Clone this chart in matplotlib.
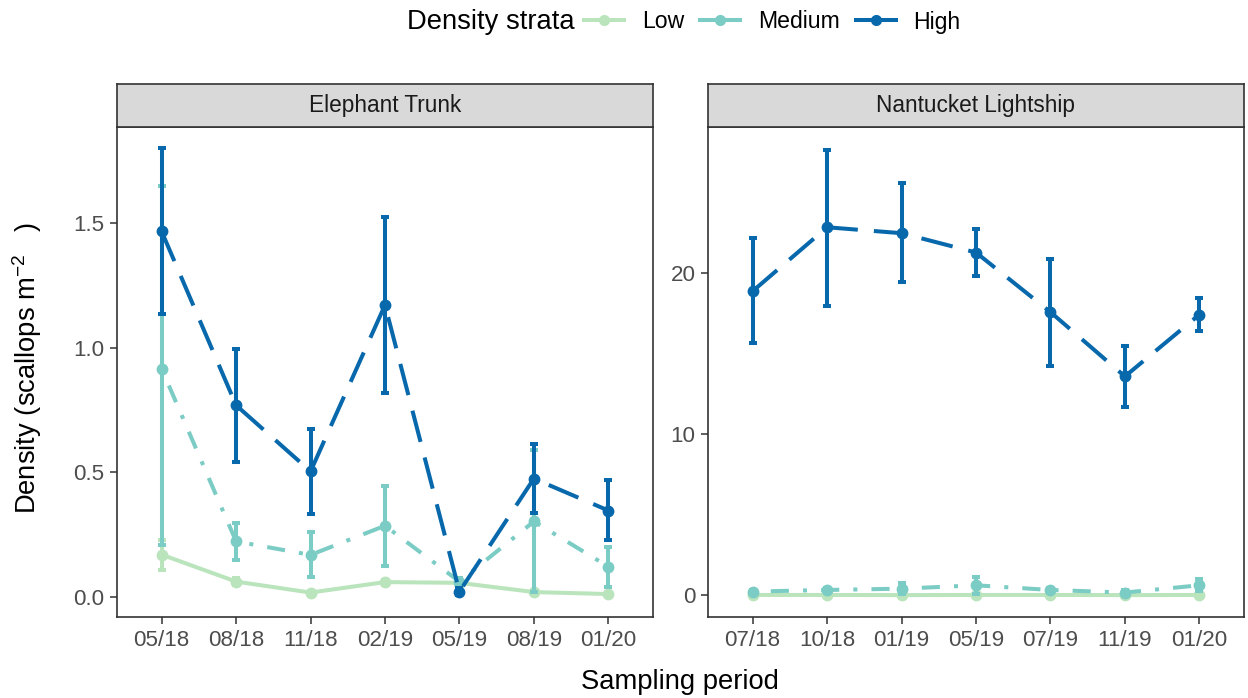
import matplotlib
matplotlib.use("Agg")
import matplotlib.pyplot as plt
from matplotlib.lines import Line2D

plt.rcParams['font.family'] = ['Liberation Sans', 'DejaVu Sans']
plt.rcParams['mathtext.fontset'] = 'custom'
plt.rcParams['mathtext.rm'] = 'Liberation Sans'
plt.rcParams['mathtext.it'] = 'Liberation Sans:italic'

# data
et_periods = ['05/18', '08/18', '11/18', '02/19', '05/19', '08/19', '01/20']
nl_periods = ['07/18', '10/18', '01/19', '05/19', '07/19', '11/19', '01/20']

et_low = [0.17, 0.062, 0.018, 0.06, 0.057, 0.02, 0.012]
et_low_lo = [0.11, 0.05, 0.012, 0.052, 0.05, 0.015, 0.008]
et_low_hi = [0.23, 0.075, 0.024, 0.068, 0.064, 0.025, 0.016]

et_med = [0.915, 0.223, 0.169, 0.286, 0.062, 0.303, 0.122]
et_med_lo = [0.21, 0.149, 0.082, 0.125, 0.042, 0.02, 0.04]
et_med_hi = [1.65, 0.296, 0.259, 0.444, 0.075, 0.59, 0.20]

et_high = [1.466, 0.769, 0.504, 1.171, 0.022, 0.475, 0.347]
et_high_lo = [1.135, 0.54, 0.334, 0.82, 0.008, 0.337, 0.227]
et_high_hi = [1.80, 0.994, 0.675, 1.524, 0.035, 0.612, 0.471]

nl_low = [0.02, 0.02, 0.01, 0.02, 0.02, 0.01, 0.02]
nl_low_lo = [0.0, 0.0, 0.0, 0.0, 0.0, 0.0, 0.0]
nl_low_hi = [0.05, 0.05, 0.03, 0.05, 0.05, 0.03, 0.05]

nl_med = [0.23, 0.33, 0.41, 0.62, 0.33, 0.17, 0.62]
nl_med_lo = [0.1, 0.2, 0.1, 0.05, 0.2, 0.05, 0.25]
nl_med_hi = [0.35, 0.45, 0.74, 1.16, 0.48, 0.3, 1.03]

nl_high = [18.9, 22.87, 22.5, 21.3, 17.6, 13.6, 17.44]
nl_high_lo = [15.65, 18.0, 19.46, 19.83, 14.26, 11.72, 16.4]
nl_high_hi = [22.2, 27.7, 25.6, 22.77, 20.9, 15.5, 18.5]

strata = ['Low', 'Medium', 'High']
colors = {'Low': '#bae4bc', 'Medium': '#7bccc4', 'High': '#0868ac'}
dashes = {'Low': None, 'Medium': (1, 3.5, 4.5, 3.5), 'High': (8, 4)}

W, H = 1248, 698
fig = plt.figure(figsize=(W / 100, H / 100), dpi=100)

def px(x0, y0, x1, y1):
    return [x0 / W, 1 - y1 / H, (x1 - x0) / W, (y1 - y0) / H]

LW = 2.9
tick_col = '#4d4d4d'
frame_col = '#333333'

def panel(rect, strip_rect, title, periods, series, ylim, yticks, yticklabels):
    ax = fig.add_axes(rect)
    x = list(range(len(periods)))
    for i, (name, (y, lo, hi)) in enumerate(zip(strata, series)):
        err = [[v - l for v, l in zip(y, lo)], [h - v for v, h in zip(y, hi)]]
        eb = ax.errorbar(x, y, yerr=err, color=colors[name], lw=LW, marker='o',
                         ms=7.5, capsize=3, capthick=LW, elinewidth=LW,
                         zorder=3 + i)
        if dashes[name] is not None:
            eb[0].set_dashes(dashes[name])
    ax.set_xlim(-0.6, 6.6)
    ax.set_ylim(*ylim)
    ax.set_xticks(x)
    ax.set_xticklabels(periods)
    ax.set_yticks(yticks)
    ax.set_yticklabels(yticklabels)
    ax.tick_params(colors=frame_col, labelcolor=tick_col, labelsize=16.1,
                   length=5, width=1.1, pad=4)
    for s in ax.spines.values():
        s.set_color(frame_col)
        s.set_linewidth(1.2)

    sax = fig.add_axes(strip_rect)
    sax.set_facecolor('#d9d9d9')
    sax.set_xticks([])
    sax.set_yticks([])
    for s in sax.spines.values():
        s.set_color(frame_col)
        s.set_linewidth(1.2)
    sax.text(0.5, 0.5, title, ha='center', va='center', fontsize=16.3,
             color='#1a1a1a', transform=sax.transAxes)
    return ax

ax1 = panel(px(117, 127, 653, 617), px(117, 84, 653, 127), 'Elephant Trunk',
            et_periods,
            [(et_low, et_low_lo, et_low_hi), (et_med, et_med_lo, et_med_hi),
             (et_high, et_high_lo, et_high_hi)],
            (-0.08, 1.885), [0, 0.5, 1.0, 1.5], ['0.0', '0.5', '1.0', '1.5'])
ax2 = panel(px(708, 127, 1244, 617), px(708, 84, 1244, 127), 'Nantucket Lightship',
            nl_periods,
            [(nl_low, nl_low_lo, nl_low_hi), (nl_med, nl_med_lo, nl_med_hi),
             (nl_high, nl_high_lo, nl_high_hi)],
            (-1.35, 29.1), [0, 10, 20], ['0', '10', '20'])

fig.text(680 / W, 1 - 682 / H, 'Sampling period', ha='center', va='center',
         fontsize=19.7)
fig.text(27 / W, 1 - 222 / H, 'Density (scallops m$^{-2}$   )', ha='center',
         va='top', rotation=90, fontsize=19.7)

# legend across the top
fig.text(407 / W, 1 - 22 / H, 'Density strata', ha='left', va='center',
         fontsize=19.7)
handles = [Line2D([], [], color=colors[s], lw=LW, marker='o', ms=7) for s in strata]
fig.legend(handles, strata, loc='center left', bbox_to_anchor=(584 / W, 1 - 22 / H),
           ncol=3, frameon=False, fontsize=16.6, handlelength=1.75,
           handletextpad=0.75, columnspacing=0.7, borderpad=0, borderaxespad=0)

fig.savefig('out.png', dpi=100)
